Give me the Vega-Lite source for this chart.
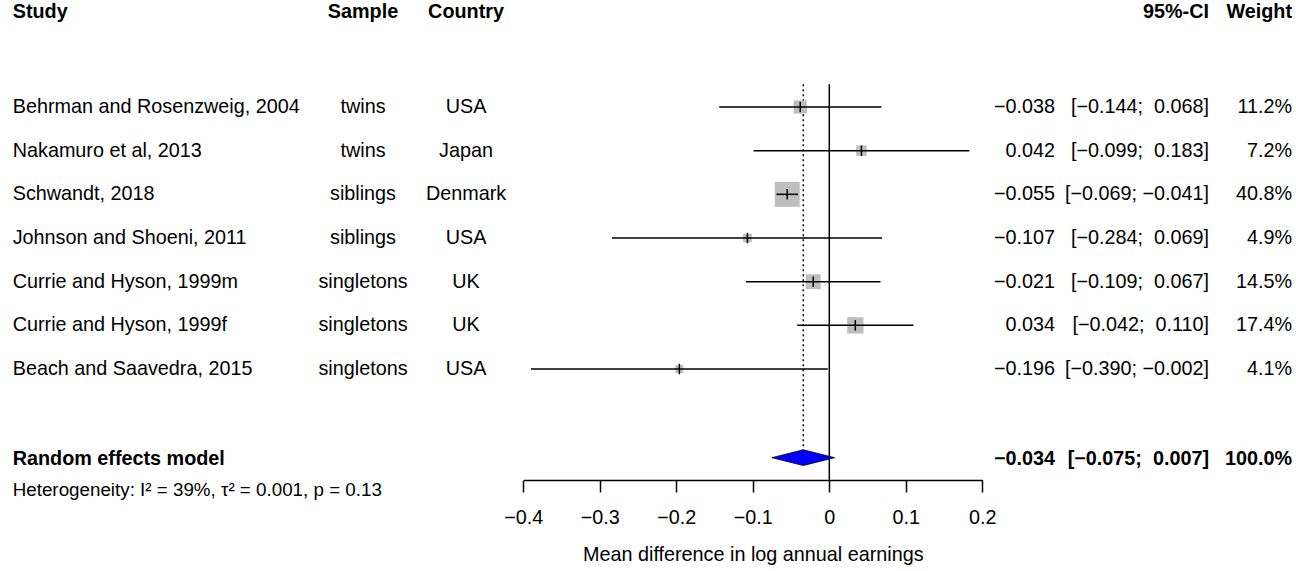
{
  "$schema": "https://vega.github.io/schema/vega-lite/v6.json",
  "width": 1296,
  "height": 480,
  "padding": 0,
  "autosize": {"type": "pad"},
  "background": "white",
  "config": {
    "view": {"stroke": null},
    "font": "Liberation Sans",
    "text": {"font": "Liberation Sans", "fontSize": 19.8, "color": "black", "baseline": "middle"}
  },
  "datasets": {
    "studies": [
      {"row": 1, "study": "Behrman and Rosenzweig, 2004", "sample": "twins", "country": "USA", "te": -0.038, "lower": -0.144, "upper": 0.068, "weight": 11.2},
      {"row": 2, "study": "Nakamuro et al, 2013", "sample": "twins", "country": "Japan", "te": 0.042, "lower": -0.099, "upper": 0.183, "weight": 7.2},
      {"row": 3, "study": "Schwandt, 2018", "sample": "siblings", "country": "Denmark", "te": -0.055, "lower": -0.069, "upper": -0.041, "weight": 40.8},
      {"row": 4, "study": "Johnson and Shoeni, 2011", "sample": "siblings", "country": "USA", "te": -0.107, "lower": -0.284, "upper": 0.069, "weight": 4.9},
      {"row": 5, "study": "Currie and Hyson, 1999m", "sample": "singletons", "country": "UK", "te": -0.021, "lower": -0.109, "upper": 0.067, "weight": 14.5},
      {"row": 6, "study": "Currie and Hyson, 1999f", "sample": "singletons", "country": "UK", "te": 0.034, "lower": -0.042, "upper": 0.110, "weight": 17.4},
      {"row": 7, "study": "Beach and Saavedra, 2015", "sample": "singletons", "country": "USA", "te": -0.196, "lower": -0.390, "upper": -0.002, "weight": 4.1}
    ],
    "pooled": [
      {"model": "Random effects model", "te": -0.034, "lower": -0.075, "upper": 0.007, "weight": 100.0, "het": "Heterogeneity: I² = 39%, τ² = 0.001, p = 0.13"}
    ],
    "headers": [
      {"label": "Study", "col": 0, "align": "left"},
      {"label": "Sample", "col": 1, "align": "center"},
      {"label": "Country", "col": 2, "align": "center"},
      {"label": "95%-CI", "col": 4, "align": "right"},
      {"label": "Weight", "col": 5, "align": "right"}
    ]
  },
  "resolve": {"scale": {"x": "independent"}, "axis": {"x": "independent"}},
  "layer": [
    {
      "layer": [
        {
          "data": {"name": "pooled"},
          "mark": {"type": "rule", "color": "black", "strokeWidth": 1.5},
          "encoding": {
            "x": {"datum": 0, "type": "quantitative",
              "scale": {"domain": [-0.4, 0.2], "range": [523.3, 982.3], "nice": false, "zero": false},
              "axis": {"orient": "bottom", "values": [-0.4, -0.3, -0.2, -0.1, 0, 0.1, 0.2], "format": "~g",
                "title": "Mean difference in log annual earnings", "grid": false,
                "domainColor": "black", "domainWidth": 1.5, "tickColor": "black", "tickWidth": 1.5, "tickSize": 12,
                "labelFont": "Liberation Sans", "labelFontSize": 19.8, "labelColor": "black", "labelPadding": 15, "labelFlush": false,
                "titleFont": "Liberation Sans", "titleFontSize": 19.8, "titleFontWeight": "normal", "titleColor": "black", "titlePadding": 18}},
            "y": {"datum": 0.48, "type": "quantitative", "scale": {"domain": [-1.45, 9.541], "reverse": true, "nice": false, "zero": false}, "axis": null},
            "y2": {"datum": 9.541}
          }
        },
        {
          "data": {"name": "pooled"},
          "mark": {"type": "rule", "color": "black", "strokeWidth": 1.5, "strokeDash": [2, 3]},
          "encoding": {
            "x": {"field": "te", "type": "quantitative", "scale": {"domain": [-0.4, 0.2], "range": [523.3, 982.3], "nice": false, "zero": false}},
            "y": {"datum": 0.48, "type": "quantitative", "scale": {"domain": [-1.45, 9.541], "reverse": true, "nice": false, "zero": false}, "axis": null},
            "y2": {"datum": 8.85}
          }
        },
        {
          "data": {"name": "studies"},
          "mark": {"type": "point", "shape": "square", "filled": true, "color": "#bebebe", "opacity": 1, "strokeWidth": 0},
          "encoding": {
            "x": {"field": "te", "type": "quantitative", "scale": {"domain": [-0.4, 0.2], "range": [523.3, 982.3], "nice": false, "zero": false}},
            "y": {"field": "row", "type": "quantitative", "scale": {"domain": [-1.45, 9.541], "reverse": true, "nice": false, "zero": false}, "axis": null},
            "size": {"field": "weight", "type": "quantitative", "scale": {"domain": [0, 40.8], "range": [0, 625], "zero": true}, "legend": null}
          }
        },
        {
          "data": {"name": "studies"},
          "mark": {"type": "rule", "color": "black", "strokeWidth": 1.5},
          "encoding": {
            "x": {"field": "lower", "type": "quantitative", "scale": {"domain": [-0.4, 0.2], "range": [523.3, 982.3], "nice": false, "zero": false}},
            "x2": {"field": "upper"},
            "y": {"field": "row", "type": "quantitative", "scale": {"domain": [-1.45, 9.541], "reverse": true, "nice": false, "zero": false}, "axis": null}
          }
        },
        {
          "data": {"name": "studies"},
          "mark": {"type": "point", "shape": "M0,-1L0,1", "filled": false, "color": "black", "strokeWidth": 1.5, "opacity": 1, "size": 110},
          "encoding": {
            "x": {"field": "te", "type": "quantitative", "scale": {"domain": [-0.4, 0.2], "range": [523.3, 982.3], "nice": false, "zero": false}},
            "y": {"field": "row", "type": "quantitative", "scale": {"domain": [-1.45, 9.541], "reverse": true, "nice": false, "zero": false}, "axis": null}
          }
        },
        {
          "data": {"name": "pooled"},
          "transform": [
            {"fold": ["lower", "te", "upper"], "as": ["k", "v"]},
            {"calculate": "datum.k === 'te' ? 0.18 : 0", "as": "h"},
            {"calculate": "9.03 - datum.h", "as": "top"},
            {"calculate": "9.03 + datum.h", "as": "bot"}
          ],
          "mark": {"type": "area", "color": "#0000ff", "fill": "#0000ff", "stroke": "#000000", "strokeWidth": 0.8, "opacity": 1},
          "encoding": {
            "x": {"field": "v", "type": "quantitative", "scale": {"domain": [-0.4, 0.2], "range": [523.3, 982.3], "nice": false, "zero": false}},
            "y": {"field": "top", "type": "quantitative", "scale": {"domain": [-1.45, 9.541], "reverse": true, "nice": false, "zero": false}, "axis": null},
            "y2": {"field": "bot"}
          }
        }
      ]
    },
    {
      "layer": [
        {
          "data": {"name": "headers"},
          "transform": [{"filter": "datum.align === 'left'"}],
          "mark": {"type": "text", "align": "left", "fontWeight": "bold"},
          "encoding": {
            "x": {"field": "col", "type": "quantitative", "scale": {"type": "linear", "domain": [0, 1, 2, 3, 4, 5], "range": [12.7, 363, 466, 1055, 1209, 1292], "nice": false, "zero": false}, "axis": null},
            "y": {"datum": -1.175, "type": "quantitative", "scale": {"domain": [-1.45, 9.541], "reverse": true, "nice": false, "zero": false}, "axis": null},
            "text": {"field": "label"}
          }
        },
        {
          "data": {"name": "headers"},
          "transform": [{"filter": "datum.align === 'center'"}],
          "mark": {"type": "text", "align": "center", "fontWeight": "bold"},
          "encoding": {
            "x": {"field": "col", "type": "quantitative", "scale": {"type": "linear", "domain": [0, 1, 2, 3, 4, 5], "range": [12.7, 363, 466, 1055, 1209, 1292], "nice": false, "zero": false}, "axis": null},
            "y": {"datum": -1.175, "type": "quantitative", "scale": {"domain": [-1.45, 9.541], "reverse": true, "nice": false, "zero": false}, "axis": null},
            "text": {"field": "label"}
          }
        },
        {
          "data": {"name": "headers"},
          "transform": [{"filter": "datum.align === 'right'"}],
          "mark": {"type": "text", "align": "right", "fontWeight": "bold"},
          "encoding": {
            "x": {"field": "col", "type": "quantitative", "scale": {"type": "linear", "domain": [0, 1, 2, 3, 4, 5], "range": [12.7, 363, 466, 1055, 1209, 1292], "nice": false, "zero": false}, "axis": null},
            "y": {"datum": -1.175, "type": "quantitative", "scale": {"domain": [-1.45, 9.541], "reverse": true, "nice": false, "zero": false}, "axis": null},
            "text": {"field": "label"}
          }
        },
        {
          "data": {"name": "studies"},
          "mark": {"type": "text", "align": "left"},
          "encoding": {
            "x": {"datum": 0, "type": "quantitative", "scale": {"type": "linear", "domain": [0, 1, 2, 3, 4, 5], "range": [12.7, 363, 466, 1055, 1209, 1292], "nice": false, "zero": false}, "axis": null},
            "y": {"field": "row", "type": "quantitative", "scale": {"domain": [-1.45, 9.541], "reverse": true, "nice": false, "zero": false}, "axis": null},
            "text": {"field": "study"}
          }
        },
        {
          "data": {"name": "studies"},
          "mark": {"type": "text", "align": "center"},
          "encoding": {
            "x": {"datum": 1, "type": "quantitative", "scale": {"type": "linear", "domain": [0, 1, 2, 3, 4, 5], "range": [12.7, 363, 466, 1055, 1209, 1292], "nice": false, "zero": false}, "axis": null},
            "y": {"field": "row", "type": "quantitative", "scale": {"domain": [-1.45, 9.541], "reverse": true, "nice": false, "zero": false}, "axis": null},
            "text": {"field": "sample"}
          }
        },
        {
          "data": {"name": "studies"},
          "mark": {"type": "text", "align": "center"},
          "encoding": {
            "x": {"datum": 2, "type": "quantitative", "scale": {"type": "linear", "domain": [0, 1, 2, 3, 4, 5], "range": [12.7, 363, 466, 1055, 1209, 1292], "nice": false, "zero": false}, "axis": null},
            "y": {"field": "row", "type": "quantitative", "scale": {"domain": [-1.45, 9.541], "reverse": true, "nice": false, "zero": false}, "axis": null},
            "text": {"field": "country"}
          }
        },
        {
          "data": {"name": "studies"},
          "mark": {"type": "text", "align": "right"},
          "encoding": {
            "x": {"datum": 3, "type": "quantitative", "scale": {"type": "linear", "domain": [0, 1, 2, 3, 4, 5], "range": [12.7, 363, 466, 1055, 1209, 1292], "nice": false, "zero": false}, "axis": null},
            "y": {"field": "row", "type": "quantitative", "scale": {"domain": [-1.45, 9.541], "reverse": true, "nice": false, "zero": false}, "axis": null},
            "text": {"field": "te", "type": "quantitative", "format": ".3f"}
          }
        },
        {
          "data": {"name": "studies"},
          "transform": [{"calculate": "'[' + format(datum.lower, '.3f') + ';' + (datum.upper >= 0 ? '\u00a0 ' : ' ') + format(datum.upper, '.3f') + ']'", "as": "ci"}],
          "mark": {"type": "text", "align": "right"},
          "encoding": {
            "x": {"datum": 4, "type": "quantitative", "scale": {"type": "linear", "domain": [0, 1, 2, 3, 4, 5], "range": [12.7, 363, 466, 1055, 1209, 1292], "nice": false, "zero": false}, "axis": null},
            "y": {"field": "row", "type": "quantitative", "scale": {"domain": [-1.45, 9.541], "reverse": true, "nice": false, "zero": false}, "axis": null},
            "text": {"field": "ci"}
          }
        },
        {
          "data": {"name": "studies"},
          "transform": [{"calculate": "format(datum.weight, '.1f') + '%'", "as": "w"}],
          "mark": {"type": "text", "align": "right"},
          "encoding": {
            "x": {"datum": 5, "type": "quantitative", "scale": {"type": "linear", "domain": [0, 1, 2, 3, 4, 5], "range": [12.7, 363, 466, 1055, 1209, 1292], "nice": false, "zero": false}, "axis": null},
            "y": {"field": "row", "type": "quantitative", "scale": {"domain": [-1.45, 9.541], "reverse": true, "nice": false, "zero": false}, "axis": null},
            "text": {"field": "w"}
          }
        },
        {
          "data": {"name": "pooled"},
          "mark": {"type": "text", "align": "left", "fontWeight": "bold"},
          "encoding": {
            "x": {"datum": 0, "type": "quantitative", "scale": {"type": "linear", "domain": [0, 1, 2, 3, 4, 5], "range": [12.7, 363, 466, 1055, 1209, 1292], "nice": false, "zero": false}, "axis": null},
            "y": {"datum": 9.05, "type": "quantitative", "scale": {"domain": [-1.45, 9.541], "reverse": true, "nice": false, "zero": false}, "axis": null},
            "text": {"field": "model"}
          }
        },
        {
          "data": {"name": "pooled"},
          "mark": {"type": "text", "align": "left", "fontSize": 18.8},
          "encoding": {
            "x": {"datum": 0, "type": "quantitative", "scale": {"type": "linear", "domain": [0, 1, 2, 3, 4, 5], "range": [12.7, 363, 466, 1055, 1209, 1292], "nice": false, "zero": false}, "axis": null},
            "y": {"datum": 9.77, "type": "quantitative", "scale": {"domain": [-1.45, 9.541], "reverse": true, "nice": false, "zero": false}, "axis": null},
            "text": {"field": "het"}
          }
        },
        {
          "data": {"name": "pooled"},
          "mark": {"type": "text", "align": "right", "fontWeight": "bold"},
          "encoding": {
            "x": {"datum": 3, "type": "quantitative", "scale": {"type": "linear", "domain": [0, 1, 2, 3, 4, 5], "range": [12.7, 363, 466, 1055, 1209, 1292], "nice": false, "zero": false}, "axis": null},
            "y": {"datum": 9.05, "type": "quantitative", "scale": {"domain": [-1.45, 9.541], "reverse": true, "nice": false, "zero": false}, "axis": null},
            "text": {"field": "te", "type": "quantitative", "format": ".3f"}
          }
        },
        {
          "data": {"name": "pooled"},
          "transform": [{"calculate": "'[' + format(datum.lower, '.3f') + ';' + (datum.upper >= 0 ? '\u00a0 ' : ' ') + format(datum.upper, '.3f') + ']'", "as": "ci"}],
          "mark": {"type": "text", "align": "right", "fontWeight": "bold"},
          "encoding": {
            "x": {"datum": 4, "type": "quantitative", "scale": {"type": "linear", "domain": [0, 1, 2, 3, 4, 5], "range": [12.7, 363, 466, 1055, 1209, 1292], "nice": false, "zero": false}, "axis": null},
            "y": {"datum": 9.05, "type": "quantitative", "scale": {"domain": [-1.45, 9.541], "reverse": true, "nice": false, "zero": false}, "axis": null},
            "text": {"field": "ci"}
          }
        },
        {
          "data": {"name": "pooled"},
          "transform": [{"calculate": "format(datum.weight, '.1f') + '%'", "as": "w"}],
          "mark": {"type": "text", "align": "right", "fontWeight": "bold"},
          "encoding": {
            "x": {"datum": 5, "type": "quantitative", "scale": {"type": "linear", "domain": [0, 1, 2, 3, 4, 5], "range": [12.7, 363, 466, 1055, 1209, 1292], "nice": false, "zero": false}, "axis": null},
            "y": {"datum": 9.05, "type": "quantitative", "scale": {"domain": [-1.45, 9.541], "reverse": true, "nice": false, "zero": false}, "axis": null},
            "text": {"field": "w"}
          }
        }
      ]
    }
  ]
}
